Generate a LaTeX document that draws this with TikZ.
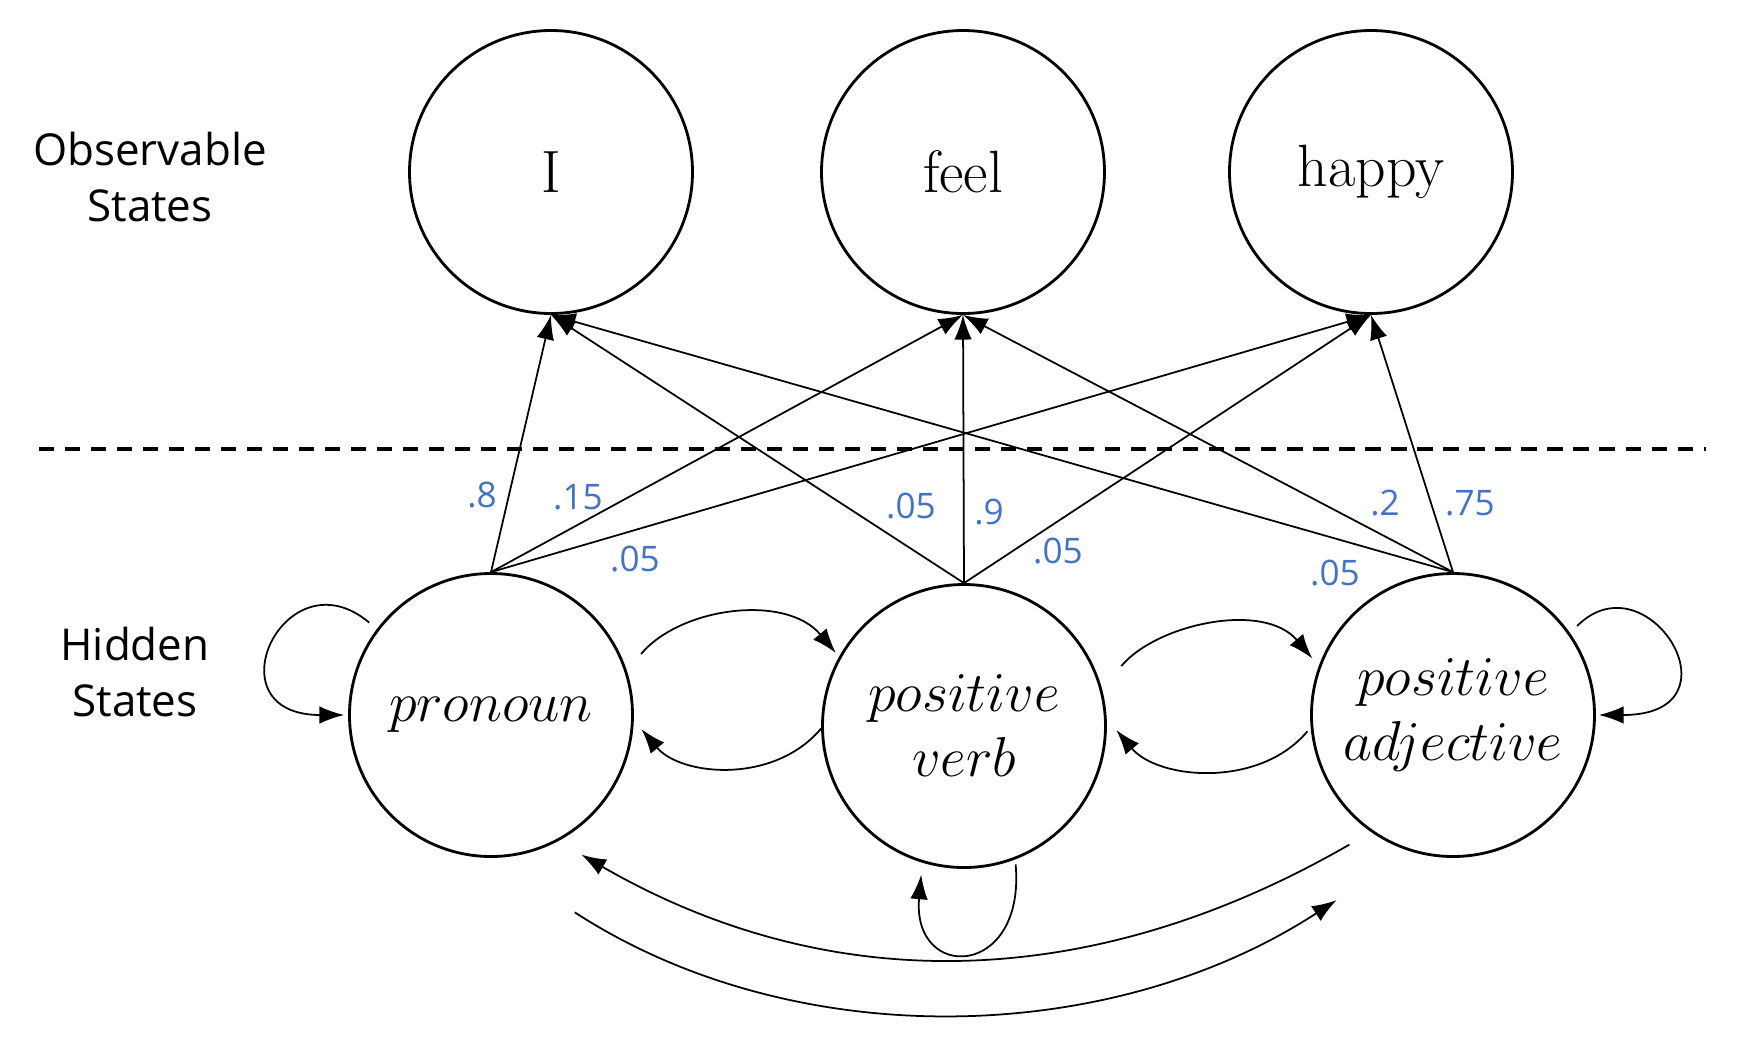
\RequirePackage{fix-cm}
\documentclass[tikz,border=0pt]{standalone}
\usepackage{fontspec}
\newfontfamily\labelfont{Open Sans}
\usetikzlibrary{calc,arrows.meta}
\definecolor{probblue}{HTML}{4472C4}

\begin{document}
\begin{tikzpicture}[
  state/.style={draw,circle,minimum size=2.83cm,line width=0.8pt,inner sep=0pt},
  word/.style={font=\fontsize{17}{20}\selectfont},
  tag/.style={font=\fontsize{16}{18.5}\selectfont,align=center},
  side/.style={font=\labelfont\fontsize{12.5}{15.7}\selectfont,align=center},
  prob/.style={font=\labelfont\fontsize{10}{12}\selectfont,text=probblue,inner sep=0pt},
  emit/.style={->,line width=0.5pt},
  >={Latex[length=7pt,width=5pt]}
]
\useasboundingbox (0,0) rectangle (17.37,-10.47);

% observable states
\draw node [state,word] (I) at (5.51,-1.72) {I};
\draw node [state,word] (feel) at (9.63,-1.72) {feel};
\draw node [state,word] (happy) at (13.71,-1.72) {happy};
\draw node [side] (obs) at (1.50,-1.77) {Observable\\States};

\draw[line width=1pt,dash pattern=on 4.3pt off 3.1pt] (0.39,-4.49) -- (17.06,-4.49);

% hidden states
\draw node [state,tag] (pronoun) at (4.91,-7.15) {$pronoun$};
\draw node [state,tag] (verb) at (9.64,-7.26) {$positive$\\$verb$};
\draw node [state,tag] (adj) at (14.53,-7.15) {$positive$\\$adjective$};
\draw node [side] (hid) at (1.35,-6.72) {Hidden\\States};

% emissions
\draw[emit] (pronoun.north) -- (I.south);
\draw[emit] (pronoun.north) -- (feel.south);
\draw[emit] (pronoun.north) -- (happy.south);
\draw[emit] (verb.north) -- (I.south);
\draw[emit] (verb.north) -- (feel.south);
\draw[emit] (verb.north) -- (happy.south);
\draw[emit] (adj.north) -- (I.south);
\draw[emit] (adj.north) -- (feel.south);
\draw[emit] (adj.north) -- (happy.south);

\draw node [prob] (p-i) at ($(pronoun)+(-0.09,2.20)$) {.8};
\draw node [prob] (p-feel) at ($(pronoun)+(0.87,2.18)$) {.15};
\draw node [prob] (p-happy) at ($(pronoun)+(1.44,1.56)$) {.05};
\draw node [prob] (v-i) at ($(verb)+(-0.53,2.20)$) {.05};
\draw node [prob] (v-feel) at ($(verb)+(0.25,2.14)$) {.9};
\draw node [prob] (v-happy) at ($(verb)+(0.94,1.75)$) {.05};
\draw node [prob] (a-i) at ($(adj)+(-1.18,1.42)$) {.05};
\draw node [prob] (a-feel) at ($(adj)+(-0.68,2.12)$) {.2};
\draw node [prob] (a-happy) at ($(adj)+(0.17,2.12)$) {.75};

% transitions
\draw[emit,shorten <=0.22cm,shorten >=0.05cm] (pronoun.18) to[out=50,in=130] (verb.151);
\draw[emit,shorten >=0.12cm] (verb.181) to[out=-130,in=-50] (pronoun.-2);
\draw[emit,shorten <=0.3cm,shorten >=0.1cm] (verb.15) to[out=50,in=130] (adj.160);
\draw[emit,shorten <=0.05cm,shorten >=0.15cm] (adj.185) to[out=-130,in=-50] (verb.3);

\draw[emit,shorten <=0.1cm,shorten >=0.04cm] (pronoun.143) .. controls +(140:1.2) and +(180:1.4) .. (pronoun.west);
\draw[emit,shorten <=0.1cm,shorten >=0.03cm] (adj.35) .. controls +(45:1.1) and +(0:1.5) .. (adj.east);
\draw[emit,shorten <=0.05cm,shorten >=0.12cm] (verb.-69) .. controls +(-85:1.2) and +(-95:1.2) .. (verb.-107);

\draw[emit,shorten <=0.25cm,shorten >=0.27cm] (adj.-125) to[out=-150,in=-30] (pronoun.-62);
\draw[emit,shorten <=1.0cm,shorten >=0.89cm] (pronoun.south) to[out=-33,in=-147] (adj.-107);

\end{tikzpicture}
\end{document}
